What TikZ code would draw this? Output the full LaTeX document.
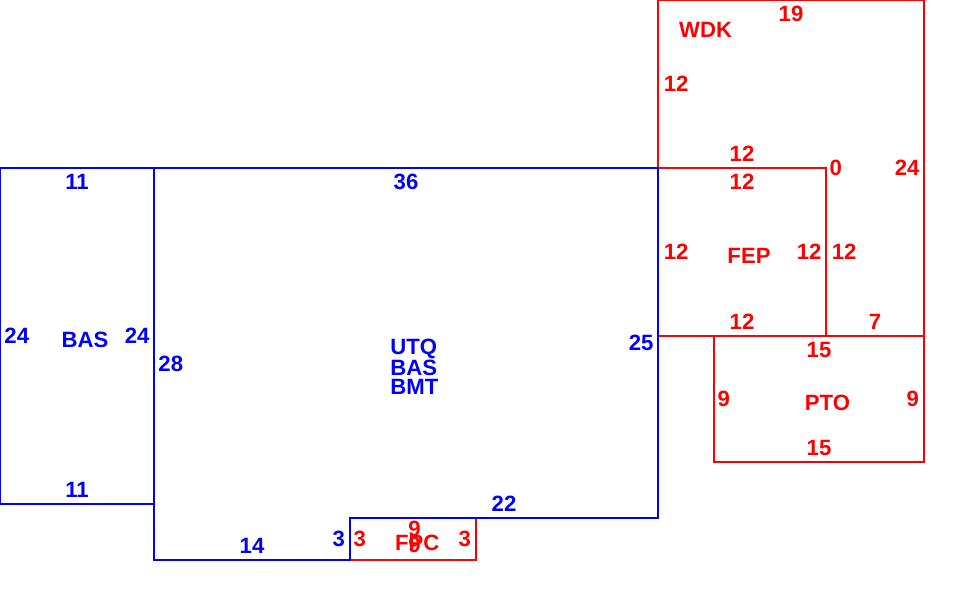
\documentclass[tikz,border=0pt]{standalone}
\usepackage{fontspec}
\setmainfont{Liberation Sans}
\usepackage{tikz}
\definecolor{wallblue}{RGB}{0,0,255}
\definecolor{wallred}{RGB}{255,0,0}
\newcommand{\room}[3]{\draw [#1] (#2) rectangle (#3)}

\begin{document}
\begin{tikzpicture}[x=0.5cm,y=-0.5cm,line width=1.3pt,
    font=\fontsize{22.5}{20}\selectfont\bfseries,
    bl/.style={text=wallblue,inner sep=0pt},
    rd/.style={text=wallred,inner sep=0pt}]
    \useasboundingbox (0,0) rectangle (69.571,43.571);

    % red rooms
    \room{wallred}{47,0}{66,24};
    \room{wallred}{47,12}{59,24};
    \room{wallred}{51,24}{66,33};
    \room{wallred}{25,37}{34,40};

    % blue rooms
    \room{wallblue}{0,12}{11,36};
    \draw[wallblue] (11,12) -- (47,12) -- (47,37) -- (25,37) -- (25,40) -- (11,40) -- cycle;

    \node[bl] (bastop) at (5.5,13) {11};
    \node[bl] (basleft) at (1.2,24) {24};
    \node[bl] (bas) at (6.07,24.3) {BAS};
    \node[bl] (basright) at (9.8,24) {24};
    \node[bl] (basbot) at (5.5,35) {11};
    \node[bl] (maintop) at (29,13) {36};
    \node[bl] (mainleft) at (12.2,26) {28};
    \node[bl,align=left] (main) at (29.6,26.2) {UTQ\\BAS\\BMT};
    \node[bl] (mainright) at (45.8,24.5) {25};
    \node[bl] (mainbot) at (36,36) {22};
    \node[bl] (mainbotl) at (18,39) {14};
    \node[bl] (mainstep) at (24.2,38.5) {3};

    \node[rd] (wdk) at (50.4,2.15) {WDK};
    \node[rd] (wdktop) at (56.5,1) {19};
    \node[rd] (wdkleft) at (48.3,6) {12};
    \node[rd] (wdkbot) at (53,11) {12};
    \node[rd] (wdkzero) at (59.7,12) {0};
    \node[rd] (wdkright) at (64.8,12) {24};
    \node[rd] (feptop) at (53,13) {12};
    \node[rd] (fepleft) at (48.3,18) {12};
    \node[rd] (fep) at (53.5,18.3) {FEP};
    \node[rd] (fepright) at (57.8,18) {12};
    \node[rd] (fepout) at (60.3,18) {12};
    \node[rd] (fepbot) at (53,23) {12};
    \node[rd] (wdkseven) at (62.5,23) {7};
    \node[rd] (ptotop) at (58.5,25) {15};
    \node[rd] (ptoleft) at (51.7,28.5) {9};
    \node[rd] (pto) at (59.1,28.8) {PTO};
    \node[rd] (ptoright) at (65.2,28.5) {9};
    \node[rd] (ptobot) at (58.5,32) {15};
    \node[rd] (fpcleft) at (25.7,38.5) {3};
    \node[rd] (fpc) at (29.8,38.8) {FPC};
    \node[rd] (fpctop) at (29.6,37.75) {9};
    \node[rd] (fpcbot) at (29.6,38.95) {9};
    \node[rd] (fpcright) at (33.2,38.5) {3};
\end{tikzpicture}
\end{document}
